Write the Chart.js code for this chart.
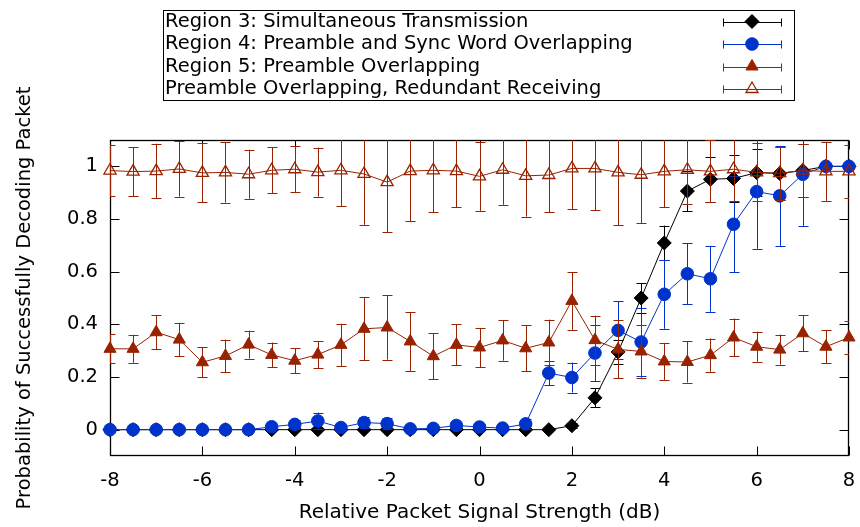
<!DOCTYPE html>
<html>
<head>
<meta charset="utf-8">
<script src="https://cdn.jsdelivr.net/npm/chart.js@4/dist/chart.umd.min.js"></script>
<style>
  html, body { margin: 0; padding: 0; background: #fff; }
  #wrap { width: 860px; height: 527px; }
</style>
</head>
<body>
<div id="wrap"><canvas id="c" width="860" height="527"></canvas></div>
<script>
// Relative signal strength of the colliding packet (dB)
const xValues = [-8, -7.5, -7, -6.5, -6, -5.5, -5, -4.5, -4, -3.5, -3, -2.5, -2, -1.5, -1, -0.5,
                 0, 0.5, 1, 1.5, 2, 2.5, 3, 3.5, 4, 4.5, 5, 5.5, 6, 6.5, 7, 7.5, 8];

// Region 3: Simultaneous Transmission
const region3 = [0, 0, 0, 0, 0, 0, 0, 0, 0, 0, 0, 0, 0, 0, 0, 0,
                 0, 0, 0, 0, 0.015, 0.121, 0.295, 0.50, 0.709, 0.906, 0.951, 0.954, 0.976, 0.973, 0.984, 1.0, 1.0];
const region3Err = [0, 0, 0, 0, 0, 0, 0, 0, 0, 0, 0, 0, 0, 0, 0, 0,
                    0, 0, 0, 0, 0.01, 0.036, 0.045, 0.056, 0.066, 0.077, 0.086, 0.09, 0.09, 0.1, 0.1, 0, 0];

// Region 4: Preamble and Sync Word Overlapping
const region4 = [0, 0, 0, 0, 0, 0, 0, 0.011, 0.020, 0.033, 0.008, 0.027, 0.023, 0.003, 0.005, 0.016,
                 0.010, 0.006, 0.022, 0.215, 0.198, 0.291, 0.377, 0.333, 0.514, 0.592, 0.573, 0.780, 0.904, 0.888, 0.970, 1.0, 1.0];
const region4Err = [0, 0, 0, 0, 0, 0, 0, 0.01, 0.018, 0.032, 0.008, 0.02, 0.02, 0.003, 0.005, 0.013,
                    0.01, 0.006, 0.02, 0.046, 0.057, 0.106, 0.11, 0.128, 0.131, 0.115, 0.125, 0.182, 0.217, 0.19, 0.196, 0, 0];

// Region 5: Preamble Overlapping
const region5 = [0.307, 0.307, 0.370, 0.342, 0.256, 0.280, 0.323, 0.284, 0.262, 0.285, 0.322, 0.383, 0.388, 0.335, 0.279, 0.322,
                 0.312, 0.339, 0.309, 0.331, 0.489, 0.340, 0.305, 0.297, 0.259, 0.257, 0.283, 0.350, 0.315, 0.304, 0.366, 0.315, 0.350];
const region5Err = [0.055, 0.053, 0.065, 0.064, 0.057, 0.062, 0.053, 0.047, 0.047, 0.052, 0.08, 0.12, 0.122, 0.112, 0.087, 0.078,
                    0.074, 0.077, 0.088, 0.087, 0.11, 0.093, 0.11, 0.1, 0.07, 0.078, 0.063, 0.072, 0.057, 0.057, 0.068, 0.062, 0.063];

// Preamble Overlapping, Redundant Receiving
const redundant = [0.984, 0.980, 0.982, 0.990, 0.975, 0.977, 0.970, 0.985, 0.989, 0.978, 0.985, 0.971, 0.940, 0.982, 0.985, 0.982,
                   0.962, 0.987, 0.964, 0.967, 0.992, 0.992, 0.977, 0.968, 0.981, 0.987, 0.981, 0.989, 0.977, 0.974, 0.984, 0.981, 0.981];
const redundantErr = [0.097, 0.093, 0.104, 0.105, 0.112, 0.115, 0.093, 0.088, 0.088, 0.093, 0.137, 0.193, 0.19, 0.191, 0.159, 0.138,
                      0.131, 0.133, 0.155, 0.142, 0.154, 0.159, 0.2, 0.183, 0.136, 0.13, 0.118, 0.12, 0.11, 0.1, 0.1, 0.112, 0.1];

const seriesLabels = [
  'Region 3: Simultaneous Transmission',
  'Region 4: Preamble and Sync Word Overlapping',
  'Region 5: Preamble Overlapping',
  'Preamble Overlapping, Redundant Receiving'
];

const xTicks = [-8, -6, -4, -2, 0, 2, 4, 6, 8];
const yTicks = [0, 0.2, 0.4, 0.6, 0.8, 1];

const FONT = 'DejaVu Sans';
const FONT_SIZE = 19.5;
const XTITLE_SIZE = 20;
const BLACK = '#000000';
const BLUE = '#0033cc';
const RED = '#992200';

function toPoints(values) {
  return xValues.map((x, i) => ({ x: x, y: values[i] }));
}

function makeSeries(label, values, errors, color, style, radius, fill, order) {
  return {
    label: label,
    data: toPoints(values),
    errors: errors,
    borderColor: color,
    backgroundColor: color,
    borderWidth: 1,
    pointStyle: style,
    pointRadius: radius,
    pointBorderWidth: fill ? 1 : 1.3,
    pointBackgroundColor: fill ? color : 'rgba(0,0,0,0)',
    pointBorderColor: color,
    tension: 0,
    fill: false,
    clip: false,
    order: order
  };
}

const datasets = [
  makeSeries(seriesLabels[0], region3, region3Err, BLACK, 'rectRot', 7, true, 4),
  makeSeries(seriesLabels[1], region4, region4Err, BLUE, 'circle', 6.3, true, 3),
  makeSeries(seriesLabels[2], region5, region5Err, RED, 'triangle', 7, true, 2),
  makeSeries(seriesLabels[3], redundant, redundantErr, RED, 'triangle', 7, false, 1)
];

// Vertical error bars with caps, drawn just beneath each series
const errorBars = {
  id: 'errorBars',
  beforeDatasetDraw(chart, args) {
    const ds = chart.data.datasets[args.index];
    if (!ds.errors) return;
    const ctx = chart.ctx;
    const area = chart.chartArea;
    const ys = chart.scales.y;
    const cap = 5;
    ctx.save();
    ctx.beginPath();
    ctx.rect(area.left, area.top, area.right - area.left, area.bottom - area.top);
    ctx.clip();
    ctx.strokeStyle = ds.borderColor;
    ctx.lineWidth = 1;
    args.meta.data.forEach((pt, i) => {
      const e = ds.errors[i];
      if (!e) return;
      const v = ds.data[i].y;
      const yTop = ys.getPixelForValue(v + e);
      const yBot = ys.getPixelForValue(v - e);
      const x = Math.round(pt.x) + 0.5;
      ctx.beginPath();
      ctx.moveTo(x, yTop);
      ctx.lineTo(x, yBot);
      ctx.moveTo(x - cap, Math.round(yTop) + 0.5);
      ctx.lineTo(x + cap, Math.round(yTop) + 0.5);
      ctx.moveTo(x - cap, Math.round(yBot) + 0.5);
      ctx.lineTo(x + cap, Math.round(yBot) + 0.5);
      ctx.stroke();
    });
    ctx.restore();
  }
};

// Plot frame with inward ticks mirrored on all four sides
const frame = {
  id: 'frame',
  beforeDatasetsDraw(chart) {
    const ctx = chart.ctx;
    const a = chart.chartArea;
    const xs = chart.scales.x, ys = chart.scales.y;
    const L = Math.round(a.left) + 0.5, R = Math.round(a.right) - 0.5;
    const T = Math.round(a.top) + 0.5, B = Math.round(a.bottom) - 0.5;
    const tl = 9;
    ctx.save();
    ctx.strokeStyle = '#000';
    ctx.lineWidth = 1;
    ctx.beginPath();
    xTicks.forEach(v => {
      const x = Math.round(xs.getPixelForValue(v)) + 0.5;
      ctx.moveTo(x, B); ctx.lineTo(x, B - tl);
      ctx.moveTo(x, T); ctx.lineTo(x, T + tl);
    });
    yTicks.forEach(v => {
      const y = Math.round(ys.getPixelForValue(v)) + 0.5;
      ctx.moveTo(L, y); ctx.lineTo(L + tl, y);
      ctx.moveTo(R, y); ctx.lineTo(R - tl, y);
    });
    ctx.stroke();
    ctx.lineWidth = 1.3;
    ctx.strokeRect(L, T, R - L, B - T);
    ctx.restore();
  }
};

// Key box with errorbar-style samples
const keyBox = {
  id: 'keyBox',
  afterDraw(chart) {
    const ctx = chart.ctx;
    const left = 163, top = 10, right = 794, bottom = 100;
    const rows = [21.5, 44, 66.5, 89];
    const sx0 = 723, sx1 = 782, sxm = 752;
    ctx.save();
    ctx.fillStyle = '#fff';
    ctx.fillRect(left, top, right - left, bottom - top);
    ctx.strokeStyle = '#000';
    ctx.lineWidth = 1;
    ctx.strokeRect(left + 0.5, top + 0.5, right - left, bottom - top);
    ctx.font = FONT_SIZE + 'px "' + FONT + '"';
    ctx.textAlign = 'left';
    ctx.textBaseline = 'middle';
    chart.data.datasets.forEach((ds, i) => {
      const y = rows[i];
      const yl = Math.round(y) + 0.5;
      ctx.fillStyle = '#000';
      ctx.fillText(ds.label, 165, y);
      ctx.strokeStyle = ds.borderColor;
      ctx.lineWidth = 1;
      ctx.beginPath();
      ctx.moveTo(sx0, yl); ctx.lineTo(sx1, yl);
      ctx.moveTo(sx0 + 0.5, yl - 4); ctx.lineTo(sx0 + 0.5, yl + 4);
      ctx.moveTo(sx1 - 0.5, yl - 4); ctx.lineTo(sx1 - 0.5, yl + 4);
      ctx.stroke();
      ctx.fillStyle = ds.pointBackgroundColor;
      ctx.strokeStyle = ds.pointBorderColor;
      ctx.lineWidth = ds.pointBorderWidth;
      Chart.helpers.drawPoint(ctx, {
        pointStyle: ds.pointStyle,
        radius: ds.pointRadius,
        borderWidth: ds.pointBorderWidth,
        rotation: 0
      }, sxm, y);
    });
    ctx.restore();
  }
};

new Chart(document.getElementById('c'), {
  type: 'line',
  data: { datasets: datasets },
  plugins: [errorBars, frame, keyBox],
  options: {
    responsive: false,
    animation: false,
    devicePixelRatio: 1,
    layout: { padding: { top: 140, right: 11, left: 0, bottom: 0 } },
    plugins: {
      legend: { display: false },
      tooltip: { enabled: false }
    },
    scales: {
      x: {
        type: 'linear',
        min: -8,
        max: 8,
        afterBuildTicks: s => { s.ticks = xTicks.map(v => ({ value: v })); },
        afterFit: s => { s.height = 71; s.paddingLeft = 0; s.paddingRight = 0; },
        grid: { display: false, drawTicks: false },
        border: { display: false },
        ticks: {
          color: '#000',
          font: { family: FONT, size: FONT_SIZE },
          padding: 13,
          maxRotation: 0,
          autoSkip: false
        },
        title: {
          display: true,
          text: 'Relative Packet Signal Strength (dB)',
          color: '#000',
          font: { family: FONT, size: XTITLE_SIZE },
          padding: { top: 0, bottom: 2 }
        }
      },
      y: {
        type: 'linear',
        min: -0.1,
        max: 1.1,
        afterBuildTicks: s => { s.ticks = yTicks.map(v => ({ value: v })); },
        afterFit: s => { s.width = 110; s.paddingTop = 0; s.paddingBottom = 0; },
        grid: { display: false, drawTicks: false },
        border: { display: false },
        ticks: {
          color: '#000',
          font: { family: FONT, size: FONT_SIZE },
          padding: 12,
          callback: v => String(v)
        },
        title: {
          display: true,
          text: 'Probability of Successfully Decoding Packet',
          color: '#000',
          font: { family: FONT, size: FONT_SIZE },
          padding: { top: 13, bottom: 0 }
        }
      }
    }
  }
});
</script>
</body>
</html>
